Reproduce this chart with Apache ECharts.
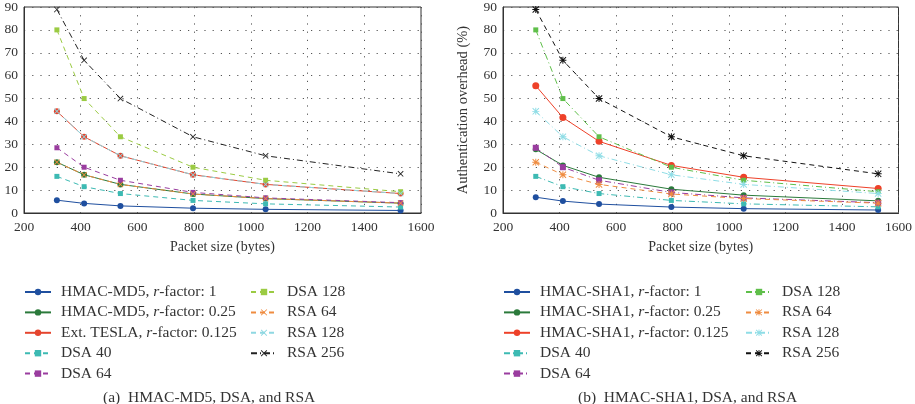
<!DOCTYPE html>
<html><head><meta charset="utf-8">
<script src="https://cdn.jsdelivr.net/npm/echarts@6/dist/echarts.min.js"></script>
<style>html,body{margin:0;padding:0;background:#fff}#c{width:915px;height:404px}</style>
</head><body><div id="c"></div>
<script>
// Packet sizes (bytes)
const packetSizes = [316, 412, 540, 796, 1052, 1528];
const xTicks = [200, 400, 600, 800, 1000, 1200, 1400, 1600];
const yTicks = [0, 10, 20, 30, 40, 50, 60, 70, 80, 90];

// (a) HMAC-MD5, DSA, RSA  (authentication overhead %)
const a_md5_r1    = [5.6, 4.2, 3.1, 2.1, 1.6, 1.1];
const a_md5_r025  = [22.2, 16.7, 12.5, 8.3, 6.3, 4.3];
const a_tesla     = [44.4, 33.3, 25.0, 16.7, 12.5, 8.5];
const a_dsa40     = [16.0, 11.5, 8.5, 5.5, 4.0, 2.6];
const a_dsa64     = [28.5, 20.0, 14.3, 9.0, 6.6, 4.5];
const a_dsa128    = [80.0, 50.0, 33.3, 20.0, 14.3, 9.3];
const a_rsa64     = [22.2, 16.7, 12.5, 8.3, 6.3, 4.3];
const a_rsa128    = [44.4, 33.3, 25.0, 16.7, 12.5, 8.5];
const a_rsa256    = [88.9, 66.7, 50.0, 33.3, 25.0, 17.1];

// (b) HMAC-SHA1, DSA, RSA
const b_sha1_r1   = [6.9, 5.2, 3.9, 2.6, 1.9, 1.3];
const b_sha1_r025 = [27.8, 20.8, 15.6, 10.4, 7.8, 5.3];
const b_sha1_r0125= [55.6, 41.7, 31.3, 20.8, 15.6, 10.7];
const b_dsa40     = [16.0, 11.5, 8.5, 5.5, 4.0, 2.7];
const b_dsa64     = [28.5, 20.0, 14.3, 9.0, 6.6, 4.5];
const b_dsa128    = [80.0, 50.0, 33.3, 20.0, 14.3, 9.3];
const b_rsa64     = [22.2, 16.7, 12.5, 8.3, 6.3, 4.3];
const b_rsa128    = [44.4, 33.3, 25.0, 16.7, 12.5, 8.5];
const b_rsa256    = [88.9, 66.7, 50.0, 33.3, 25.0, 17.1];

const FONT = "'Liberation Serif','DejaVu Serif',serif";
const TXT = '#333';
const X_SYM = 'path://M0,1 L1,0 L10,9 L9,10 Z M9,0 L10,1 L1,10 L0,9 Z';
const AST_SYM = 'path://M4.3,0 L5.7,0 L5.7,10 L4.3,10 Z M0,4.3 L10,4.3 L10,5.7 L0,5.7 Z M0,1 L1,0 L10,9 L9,10 Z M9,0 L10,1 L1,10 L0,9 Z';
const DASH = [5, 4];
const DASHDOT = [6, 3, 1, 3];

function pts(vals) { return packetSizes.map((x, i) => [x, vals[i]]); }
function mk(name, vals, idx, color, symbol, size, type) {
  return {
    name, type: 'line', xAxisIndex: idx, yAxisIndex: idx, data: pts(vals),
    symbol, symbolSize: size, showSymbol: true,
    lineStyle: { color, width: 1, type },
    itemStyle: { color, borderWidth: 0 },
    emphasis: { disabled: true }, animation: false
  };
}

const series = [
  mk('HMAC-MD5, r-factor: 1', a_md5_r1, 0, '#1f4f9f', 'circle', 6, 'solid'),
  mk('HMAC-MD5, r-factor: 0.25', a_md5_r025, 0, '#2b7a3b', 'circle', 6, 'solid'),
  mk('Ext. TESLA, r-factor: 0.125', a_tesla, 0, '#e5452e', 'circle', 6, 'solid'),
  mk('DSA 40', a_dsa40, 0, '#3dbab3', 'rect', 5, DASH),
  mk('DSA 64', a_dsa64, 0, '#9a3d9f', 'rect', 5, DASH),
  mk('DSA 128', a_dsa128, 0, '#9bcb43', 'rect', 5, DASH),
  mk('RSA 64', a_rsa64, 0, '#ef8c40', X_SYM, 6, DASH),
  mk('RSA 128', a_rsa128, 0, '#8fd8e2', X_SYM, 6, DASH),
  mk('RSA 256', a_rsa256, 0, '#222222', X_SYM, 6, DASHDOT),

  mk('HMAC-SHA1, r-factor: 1', b_sha1_r1, 1, '#1f4f9f', 'circle', 6, 'solid'),
  mk('HMAC-SHA1, r-factor: 0.25', b_sha1_r025, 1, '#2b7a3b', 'circle', 6, 'solid'),
  mk('HMAC-SHA1, r-factor: 0.125', b_sha1_r0125, 1, '#ee4129', 'circle', 7, 'solid'),
  mk('DSA 40 ', b_dsa40, 1, '#3dbab3', 'rect', 5, DASHDOT),
  mk('DSA 64 ', b_dsa64, 1, '#9a3d9f', 'rect', 6, DASHDOT),
  mk('DSA 128 ', b_dsa128, 1, '#5fbf4a', 'rect', 5, DASHDOT),
  mk('RSA 64 ', b_rsa64, 1, '#ef8c40', AST_SYM, 7, DASH),
  mk('RSA 128 ', b_rsa128, 1, '#8fdde6', AST_SYM, 7, DASHDOT),
  mk('RSA 256 ', b_rsa256, 1, '#111111', AST_SYM, 7, DASH)
];

function fmt(name) {
  const n = name.trim();
  const k = n.indexOf('r-factor');
  if (k < 0) return '{n|' + n + '}';
  return '{n|' + n.slice(0, k) + '}{i|r}{n|' + n.slice(k + 1) + '}';
}
const rich = {
  n: { fontFamily: FONT, fontSize: 15.5, color: TXT, lineHeight: 14 },
  i: { fontFamily: FONT, fontSize: 15.5, color: TXT, fontStyle: 'italic', lineHeight: 14 }
};
function legend(names, left, top) {
  return {
    data: names, orient: 'vertical', left, top, itemWidth: 26, itemHeight: 8,
    itemGap: 4.4, padding: 0, selectedMode: false, formatter: fmt,
    textStyle: { rich, padding: [0, 0, 0, 5] }
  };
}

function xAx(idx) {
  return {
    type: 'value', gridIndex: idx, min: 200, max: 1600, interval: 200,
    name: 'Packet size (bytes)', nameLocation: 'middle', nameGap: 27,
    nameTextStyle: { fontFamily: FONT, fontSize: 14, color: TXT },
    axisLine: { show: true, onZero: false, lineStyle: { color: '#333', width: 1 } },
    axisTick: { show: false },
    axisLabel: { fontFamily: FONT, fontSize: 13.5, color: TXT, margin: 7,
      customValues: xTicks, formatter: v => String(v) },
    splitLine: { show: true, lineStyle: { color: '#555', width: 1, type: [1.2, 7] } }
  };
}
function yAx(idx, name) {
  return {
    type: 'value', gridIndex: idx, min: 0, max: 90, interval: 10,
    name: name || '', nameLocation: 'middle', nameGap: 32,
    nameTextStyle: { fontFamily: FONT, fontSize: 14.5, color: TXT },
    axisLine: { show: true, lineStyle: { color: '#333', width: 1 } },
    axisTick: { show: false },
    axisLabel: { fontFamily: FONT, fontSize: 13.5, color: TXT, margin: 6 },
    splitLine: { show: true, lineStyle: { color: '#555', width: 1, type: [1.2, 7] } }
  };
}

const chart = echarts.init(document.getElementById('c'), null, { renderer: 'canvas' });
chart.setOption({
  backgroundColor: '#fff',
  animation: false,
  grid: [
    { left: 24, top: 7, width: 397, height: 206, show: true, borderColor: '#333', borderWidth: 1, containLabel: false },
    { left: 503, top: 7, width: 402, height: 206, show: true, borderColor: '#333', borderWidth: 1, containLabel: false }
  ],
  xAxis: [xAx(0), xAx(1)],
  yAxis: [yAx(0), yAx(1, 'Authentication overhead (%)')],
  legend: [
    legend(['HMAC-MD5, r-factor: 1', 'HMAC-MD5, r-factor: 0.25', 'Ext. TESLA, r-factor: 0.125', 'DSA 40', 'DSA 64'], 24, 284),
    legend(['DSA 128', 'RSA 64', 'RSA 128', 'RSA 256'], 250, 284),
    legend(['HMAC-SHA1, r-factor: 1', 'HMAC-SHA1, r-factor: 0.25', 'HMAC-SHA1, r-factor: 0.125', 'DSA 40 ', 'DSA 64 '], 503, 284),
    legend(['DSA 128 ', 'RSA 64 ', 'RSA 128 ', 'RSA 256 '], 745, 284)
  ],
  graphic: [
    { type: 'text', left: 103, top: 390, style: { text: '(a)  HMAC-MD5, DSA, and RSA', font: '15.5px ' + FONT, fill: TXT } },
    { type: 'text', left: 578, top: 390, style: { text: '(b)  HMAC-SHA1, DSA, and RSA', font: '15.5px ' + FONT, fill: TXT } }
  ],
  series
});
</script>
</body></html>
